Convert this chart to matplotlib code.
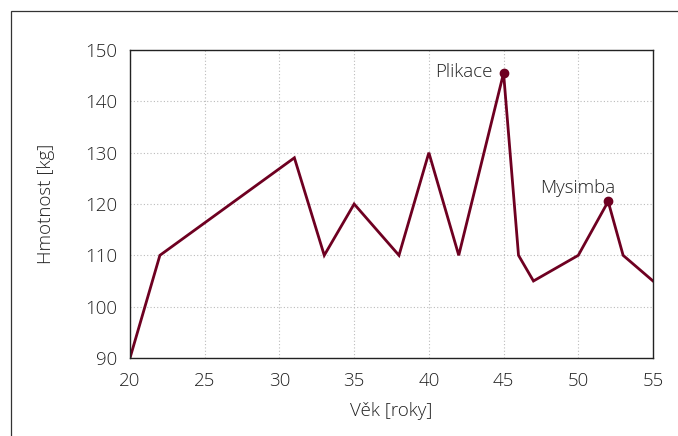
import matplotlib.pyplot as plt
from matplotlib.patches import Rectangle

# age [years] vs weight [kg]
vek = [20, 22, 31, 33, 35, 38, 40, 42, 45, 46, 47, 50, 52, 53, 55]
hmotnost = [90, 110, 129, 110, 120, 110, 130, 110, 145.5, 110, 105, 110, 120.5, 110, 105]

# highlighted points
popisky = ["Plikace", "Mysimba"]
popisky_x = [45, 52]
popisky_y = [145.5, 120.5]
posuny = [(-8, 1), (5, 10)]  # label offsets in points

line_color = "#6e0021"
text_color = "#222222"

plt.rcParams["font.family"] = ["Open Sans", "DejaVu Sans"]
plt.rcParams["font.weight"] = "light"
plt.rcParams["axes.labelweight"] = "light"

fig = plt.figure(figsize=(6.78, 4.36), dpi=100)
ax = fig.add_axes([130 / 678, 1 - 358 / 436, 523 / 678, 308 / 436])

# thin frame around the figure (open at the right/bottom)
fig.patches.append(Rectangle((11 / 678, -0.1), 1.2, 1 - 11 / 436 + 0.1,
                             transform=fig.transFigure, fill=False,
                             edgecolor="#333333", linewidth=0.9))

ax.plot(vek, hmotnost, color=line_color, linewidth=2, solid_joinstyle="miter")
ax.plot(popisky_x, popisky_y, "o", color=line_color, markersize=6)
for name, x, y, off in zip(popisky, popisky_x, popisky_y, posuny):
    ax.annotate(name, (x, y), xytext=off, textcoords="offset points",
                ha="right", va="center", fontsize=13.5, color=text_color)

ax.set_xlim(20, 55)
ax.set_ylim(90, 150)
ax.set_xticks(range(20, 56, 5))
ax.set_yticks(range(90, 151, 10))
ax.grid(True, linestyle=(0, (1, 2)), color="#bbbbbb", linewidth=0.8)
ax.tick_params(axis="x", length=0, labelsize=13.5, labelcolor=text_color, pad=10)
ax.tick_params(axis="y", length=0, labelsize=13.5, labelcolor=text_color, pad=9)
for s in ax.spines.values():
    s.set_color("#222222")
    s.set_linewidth(1)

ax.set_xlabel("Věk [roky]", fontsize=13.5, color=text_color, labelpad=9)
ax.set_ylabel("Hmotnost [kg]", fontsize=13.5, color=text_color, labelpad=22)

fig.savefig("out.png", dpi=100)
